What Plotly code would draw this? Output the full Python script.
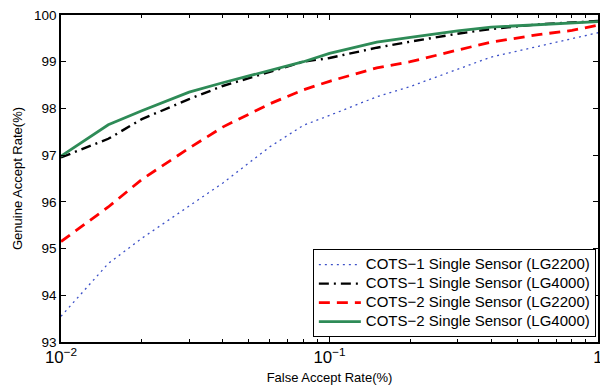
import plotly.graph_objects as go

far = [0.01, 0.015, 0.02, 0.03, 0.04, 0.06, 0.08, 0.1, 0.15, 0.2, 0.3, 0.4, 0.6, 0.8, 1.0]

cots1_lg2200 = [93.55, 94.68, 95.22, 95.90, 96.40, 97.18, 97.64, 97.85, 98.25, 98.47, 98.83, 99.10, 99.33, 99.50, 99.62]
cots1_lg4000 = [96.95, 97.35, 97.77, 98.20, 98.48, 98.78, 99.00, 99.08, 99.30, 99.43, 99.60, 99.70, 99.80, 99.84, 99.87]
cots2_lg2200 = [95.15, 95.89, 96.48, 97.15, 97.60, 98.10, 98.40, 98.58, 98.87, 99.00, 99.25, 99.42, 99.58, 99.67, 99.78]
cots2_lg4000 = [96.98, 97.65, 97.95, 98.35, 98.55, 98.82, 99.00, 99.18, 99.42, 99.52, 99.66, 99.74, 99.80, 99.84, 99.86]

names = [
    "COTS\u22121 Single Sensor (LG2200)",
    "COTS\u22121 Single Sensor (LG4000)",
    "COTS\u22122 Single Sensor (LG2200)",
    "COTS\u22122 Single Sensor (LG4000)",
]

FONT = "Liberation Sans, Arial, Helvetica, sans-serif"


def legend_label(text):
    # larger text than the legend's row height would normally allow
    return '<span style="font-size:15px">' + text + '</span>'


fig = go.Figure()
fig.add_trace(go.Scatter(x=far, y=cots1_lg2200, mode="lines", name=legend_label(names[0]),
                         line=dict(color="rgb(60,80,200)", width=1.3, dash="2px,4px")))
fig.add_trace(go.Scatter(x=far, y=cots1_lg4000, mode="lines", name=legend_label(names[1]),
                         line=dict(color="black", width=2.4, dash="10px,5px,2px,5px")))
fig.add_trace(go.Scatter(x=far, y=cots2_lg2200, mode="lines", name=legend_label(names[2]),
                         line=dict(color="rgb(255,0,0)", width=2.8, dash="11px,7px")))
fig.add_trace(go.Scatter(x=far, y=cots2_lg4000, mode="lines", name=legend_label(names[3]),
                         line=dict(color="rgb(46,139,87)", width=2.8)))

# page body adds an 8px offset, so the figure is drawn 8px smaller
fig.update_layout(
    width=600, height=382,
    margin=dict(l=53, r=10, t=7, b=48),
    paper_bgcolor="white", plot_bgcolor="white",
    font=dict(family=FONT, size=13.5, color="black"),
    showlegend=True,
    legend=dict(x=0.996, y=0.015, xanchor="right", yanchor="bottom",
                bordercolor="black", borderwidth=1, bgcolor="white",
                font=dict(family=FONT, size=11.8), tracegroupgap=0,
                itemwidth=42),
)
fig.update_xaxes(
    type="log", range=[-2, 0], dtick=1, exponentformat="power",
    showgrid=False, zeroline=False, automargin=False,
    showline=True, linecolor="black", linewidth=1.5, mirror="allticks",
    ticks="inside", ticklen=5, tickcolor="black", ticklabeloverflow="allow",
    minor=dict(ticks="inside", ticklen=3, tickcolor="black", showgrid=False),
    title=dict(text="False Accept Rate(%)", font=dict(size=13), standoff=7),
    tickfont=dict(size=13.5),
)
fig.update_yaxes(
    range=[93, 100], dtick=1,
    showgrid=False, zeroline=False, automargin=False,
    showline=True, linecolor="black", linewidth=1.5, mirror="allticks",
    ticks="inside", ticklen=5, tickcolor="black", ticklabeloverflow="allow",
    title=dict(text="Genuine Accept Rate(%)", font=dict(size=13), standoff=8),
    tickfont=dict(size=13.5),
)

fig.write_html("out.html")
